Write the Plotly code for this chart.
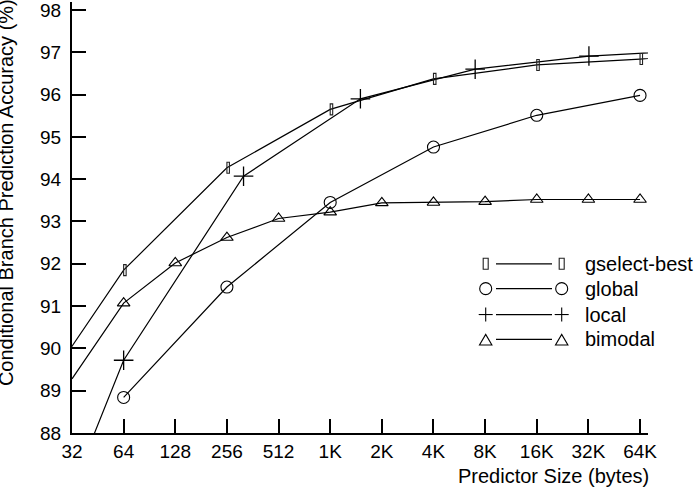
import plotly.graph_objects as go
import math

# ---- data ----
size_ticks = [32, 64, 128, 256, 512, 1024, 2048, 4096, 8192, 16384, 32768, 65536]
size_labels = ["32", "64", "128", "256", "512", "1K", "2K", "4K", "8K", "16K", "32K", "64K"]
acc_ticks = [88, 89, 90, 91, 92, 93, 94, 95, 96, 97, 98]

gselect_x = [16, 64, 256, 1024, 4096, 16384, 65536, 262144]
gselect_y = [88.25, 91.85, 94.27, 95.65, 96.37, 96.70, 96.84, 97.00]

global_x = [64, 256, 1024, 4096, 16384, 65536]
global_y = [88.84, 91.45, 93.45, 94.76, 95.51, 95.98]

local_x = [13.3, 64, 320, 1536, 7168, 33000, 148000]
local_y = [82.8, 89.72, 94.07, 95.90, 96.60, 96.91, 97.05]

bimodal_x = [32, 64, 128, 256, 512, 1024, 2048, 4096, 8192, 16384, 32768, 65536]
bimodal_y = [89.28, 91.07, 92.02, 92.62, 93.07, 93.22, 93.44, 93.45, 93.47, 93.52, 93.52, 93.52]

series_names = ["gselect-best", "global", "local", "bimodal"]

FONT = "Liberation Sans, Arial, sans-serif"
W, H = 696, 494
L, R, T, B = 72, 48, 0, 61
PW, PH = W - L - R, H - T - B

def px_x(p):
    return (p - L) / PW

def px_y(p):
    return (T + PH - p) / PH

line_style = dict(color="black", width=1.2)

xmin_log = math.log10(32)
xmax_log = xmin_log + (PW / 51.64) * math.log10(2)
ymax = 98 + 8 / 42.5

fig = go.Figure()

fig.add_trace(go.Scatter(
    x=gselect_x, y=gselect_y, mode="lines", name=series_names[0],
    line=line_style, showlegend=False))

fig.add_trace(go.Scatter(
    x=global_x, y=global_y, mode="lines+markers", name=series_names[1],
    line=line_style,
    marker=dict(symbol="circle-open", size=12, color="black", line=dict(width=1.1)),
    cliponaxis=False, showlegend=False))

fig.add_trace(go.Scatter(
    x=local_x, y=local_y, mode="lines+markers", name=series_names[2],
    line=line_style,
    marker=dict(symbol="cross-thin-open", size=14, color="black", line=dict(width=1.3)),
    cliponaxis=True, showlegend=False))

fig.add_trace(go.Scatter(
    x=bimodal_x, y=bimodal_y, mode="lines+markers", name=series_names[3],
    line=line_style,
    marker=dict(symbol="triangle-up-open", size=11, color="black", line=dict(width=1.1)),
    cliponaxis=False, showlegend=False))

fig.update_layout(
    width=W, height=H,
    margin=dict(l=L, r=R, t=T, b=B, pad=0),
    paper_bgcolor="white", plot_bgcolor="white",
    font=dict(family=FONT, size=19, color="black"),
    showlegend=False,
    xaxis=dict(
        type="log", range=[xmin_log, xmax_log],
        tickmode="array", tickvals=size_ticks, ticktext=size_labels,
        ticks="inside", ticklen=14, tickwidth=2, tickcolor="black",
        showline=True, linecolor="black", linewidth=2,
        showgrid=False, zeroline=False, ticklabelstandoff=0,
        ticklabeloverflow="allow",
        tickfont=dict(family=FONT, size=19, color="black")),
    yaxis=dict(
        range=[88, ymax],
        tickmode="array", tickvals=acc_ticks,
        ticks="inside", ticklen=14, tickwidth=2, tickcolor="black",
        showline=True, linecolor="black", linewidth=2,
        showgrid=False, zeroline=False, ticklabelstandoff=5,
        ticklabeloverflow="allow",
        tickfont=dict(family=FONT, size=19, color="black")),
    xaxis2=dict(
        type="log", range=[xmin_log, xmax_log], overlaying="x",
        tickmode="array", tickvals=size_ticks, showticklabels=False,
        ticks="outside", ticklen=2, tickwidth=2, tickcolor="black",
        showline=False, showgrid=False, zeroline=False),
    yaxis2=dict(
        range=[88, ymax], overlaying="y", side="left",
        tickmode="array", tickvals=acc_ticks, showticklabels=False,
        ticks="outside", ticklen=4, tickwidth=2, tickcolor="black",
        showline=False, showgrid=False, zeroline=False),
)

# axis titles
fig.add_annotation(
    text="Predictor Size (bytes)", xref="paper", yref="paper",
    x=px_x(651), y=px_y(476), xanchor="right", yanchor="middle",
    showarrow=False, font=dict(family=FONT, size=20, color="black"))
fig.add_annotation(
    text="Conditional Branch Prediction Accuracy (%)", xref="paper", yref="paper",
    x=px_x(6), y=px_y(192), xanchor="center", yanchor="middle", textangle=-90,
    showarrow=False, font=dict(family=FONT, size=20, color="black"))

RECT_LINE = dict(color="#222", width=1.1)
shapes = []

# gselect-best markers: narrow open rectangles anchored at the data points
x_lo, x_hi = 10 ** xmin_log, 10 ** xmax_log
for gx, gy in zip(gselect_x, gselect_y):
    if x_lo <= gx <= x_hi and 88 <= gy <= ymax:
        shapes.append(dict(type="rect", xref="x", yref="y",
                           xsizemode="pixel", ysizemode="pixel",
                           xanchor=gx, yanchor=gy,
                           x0=-2.5, x1=2.5, y0=-5.5, y1=5.5,
                           line=RECT_LINE, fillcolor="rgba(0,0,0,0)"))

# custom legend (gnuplot style: marker — line — marker  label)
rows = [263, 288, 314, 339]
lx_left, lx_right = 485.7, 561.7
line_x0, line_x1 = 496, 552
text_x = 583

def sym_shapes(kind, cx, cy):
    base = dict(xref="paper", yref="paper", xsizemode="pixel", ysizemode="pixel",
                xanchor=px_x(cx), yanchor=px_y(cy), line=dict(color="black", width=1.1))
    if kind == "rect":
        return [dict(type="rect", x0=-2.5, x1=2.5, y0=-5.5, y1=5.5,
                     **{**base, "line": RECT_LINE})]
    if kind == "circle":
        return [dict(type="circle", x0=-6, x1=6, y0=-6, y1=6, **base)]
    if kind == "plus":
        return [dict(type="line", x0=-7, x1=7, y0=0, y1=0, **base),
                dict(type="line", x0=0, x1=0, y0=-7, y1=7, **base)]
    if kind == "tri":
        return [dict(type="path", path="M -6.2,-4.5 L 6.2,-4.5 L 0,6 Z", **base)]
    return []

kinds = ["rect", "circle", "plus", "tri"]
for name, kind, ry in zip(series_names, kinds, rows):
    cy = ry + (1 if kind == "tri" else 0)
    shapes += sym_shapes(kind, lx_left, cy)
    shapes += sym_shapes(kind, lx_right, cy)
    shapes.append(dict(type="line", xref="paper", yref="paper",
                       x0=px_x(line_x0), x1=px_x(line_x1), y0=px_y(ry), y1=px_y(ry),
                       line=dict(color="black", width=1.2)))
    fig.add_annotation(text=name, xref="paper", yref="paper",
                       x=px_x(text_x), y=px_y(ry), xanchor="left", yanchor="middle",
                       showarrow=False, font=dict(family=FONT, size=20, color="black"))
fig.update_layout(shapes=shapes)

fig.write_html("out.html")
